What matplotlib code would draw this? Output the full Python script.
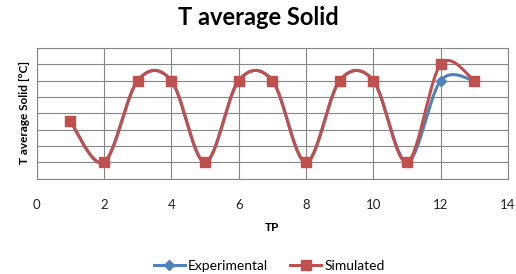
import numpy as np
import matplotlib
matplotlib.use("Agg")
import matplotlib.pyplot as plt
from matplotlib.lines import Line2D

tp = [1, 2, 3, 4, 5, 6, 7, 8, 9, 10, 11, 12, 13]
experimental = [3.5, 1, 6, 6, 1, 6, 6, 1, 6, 6, 1, 6, 6]
simulated = [3.5, 1, 6, 6, 1, 6, 6, 1, 6, 6, 1, 7, 6]
xticks = [0, 2, 4, 6, 8, 10, 12, 14]

RED = "#C0504D"
BLUE = "#4F81BD"
GRID = "#868686"
FAM = ['Lato', 'DejaVu Sans']


def smooth(x, y, n=30):
    """Catmull-Rom style Bezier smoothing like spreadsheet 'smoothed line'."""
    p = np.column_stack([x, y]).astype(float)
    pts = np.vstack([p[0], p, p[-1]])
    out = []
    t = np.linspace(0, 1, n)[:, None]
    for i in range(1, len(pts) - 2):
        p0, p1, p2, p3 = pts[i - 1], pts[i], pts[i + 1], pts[i + 2]
        c1 = p1 + (p2 - p0) / 6.0
        c2 = p2 - (p3 - p1) / 6.0
        seg = ((1 - t) ** 3) * p1 + 3 * ((1 - t) ** 2) * t * c1 + 3 * (1 - t) * t ** 2 * c2 + t ** 3 * p2
        out.append(seg if i == 1 else seg[1:])
    s = np.vstack(out)
    return s[:, 0], s[:, 1]


plt.rcParams['font.family'] = FAM
fig = plt.figure(figsize=(5.16, 2.74), dpi=100)
ax = fig.add_axes([0.0711, 0.348, 0.9134, 0.477])

ex, ey = smooth(tp, experimental)
sx, sy = smooth(tp, simulated)
ax.plot(ex, ey, color=BLUE, lw=2.2, zorder=3)
ax.plot(tp, experimental, ls="none", marker="D", ms=5, color=BLUE, zorder=4)
ax.plot(sx, sy, color=RED, lw=2.2, zorder=5)
ax.plot(tp, simulated, ls="none", marker="s", ms=7.5, color=RED, zorder=6)

ax.set_xlim(0, 14)
ax.set_ylim(0, 8)
ax.set_xticks(xticks)
ax.set_xticklabels([str(v) for v in xticks], fontsize=9.5, family=FAM, color="#222222")
ax.set_yticks(np.arange(0, 9, 1))
ax.set_yticklabels([])
ax.tick_params(axis="both", length=0, pad=15)
ax.grid(True, color=GRID, lw=0.8)
ax.set_axisbelow(True)
for sp in ax.spines.values():
    sp.set_color(GRID)
    sp.set_linewidth(0.8)

fig.text(0.5, 0.935, "T average Solid", ha="center", va="center", fontsize=17,
         fontweight="bold", family=FAM)
fig.text(0.048, 0.59, "T average Solid [°C]", rotation=90, ha="center", va="center",
         fontsize=8.5, fontweight="bold", family=FAM)
fig.text(0.527, 0.168, "TP", ha="center", va="center", fontsize=8.5,
         fontweight="bold", family=FAM)

handles = [Line2D([], [], color=BLUE, lw=2.2, marker="D", ms=5),
           Line2D([], [], color=RED, lw=2.2, marker="s", ms=7.5)]
fig.legend(handles, ["Experimental", "Simulated"], loc="center", bbox_to_anchor=(0.522, 0.03),
           ncol=2, frameon=False, handlelength=2.2, columnspacing=1.6,
           handletextpad=0.25, prop={'family': FAM, 'size': 10})

fig.savefig("out.png", dpi=100)
